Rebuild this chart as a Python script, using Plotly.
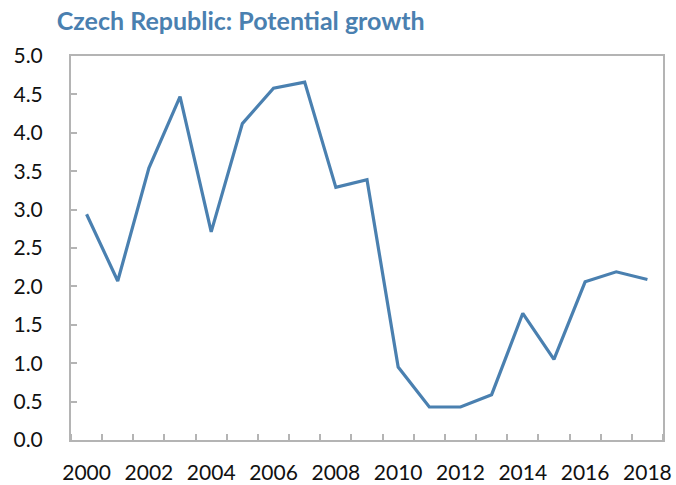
import plotly.graph_objects as go

years = list(range(2000, 2019))
growth = [2.94, 2.07, 3.54, 4.47, 2.71, 4.12, 4.58, 4.66, 3.29, 3.39,
          0.95, 0.43, 0.43, 0.59, 1.65, 1.05, 2.06, 2.19, 2.09]
x_tick_labels = [str(y) for y in range(2000, 2019, 2)]
y_tick_values = [i * 0.5 for i in range(11)]

title_text = "Czech Republic: Potential growth"
line_color = "#4a80b0"
axis_color = "#b4b4b4"

fig = go.Figure()
fig.add_trace(go.Scatter(x=years, y=growth, mode="lines",
                         line=dict(color=line_color, width=3.2),
                         showlegend=False, hoverinfo="x+y"))

fig.update_layout(
    width=676, height=485,
    margin=dict(l=71, r=13, t=56, b=45, autoexpand=False),
    paper_bgcolor="white", plot_bgcolor="white",
    font=dict(family="Lato, Open Sans, sans-serif", size=21, color="#111111"),
    title=dict(text="<b>" + title_text + "</b>", x=0.084, xanchor="left",
               y=0.957, yanchor="middle",
               font=dict(family="Lato, Open Sans, sans-serif", size=25, color=line_color)),
)
fig.update_xaxes(
    range=[1999.5, 2018.5], automargin=False,
    tickmode="array", tickvals=[int(t) for t in x_tick_labels], ticktext=x_tick_labels,
    ticks="", showgrid=False, zeroline=False,
    showline=True, mirror=True, linecolor=axis_color, linewidth=2,
    ticklabelstandoff=13,
    minor=dict(ticks="inside", tick0=1999.5, dtick=1, ticklen=6,
               tickcolor=axis_color, tickwidth=1.5, showgrid=False),
)
fig.update_yaxes(
    range=[0, 5], tickmode="array", tickvals=y_tick_values, automargin=False,
    tickformat=".1f", ticks="inside", ticklen=6, tickcolor=axis_color, tickwidth=1.5,
    showgrid=False, zeroline=False,
    showline=True, mirror=True, linecolor=axis_color, linewidth=2,
    ticklabelstandoff=22,
)
fig.write_html("out.html", config={"displayModeBar": False},
               post_script="document.body.style.margin='0';document.body.style.padding='0';")
